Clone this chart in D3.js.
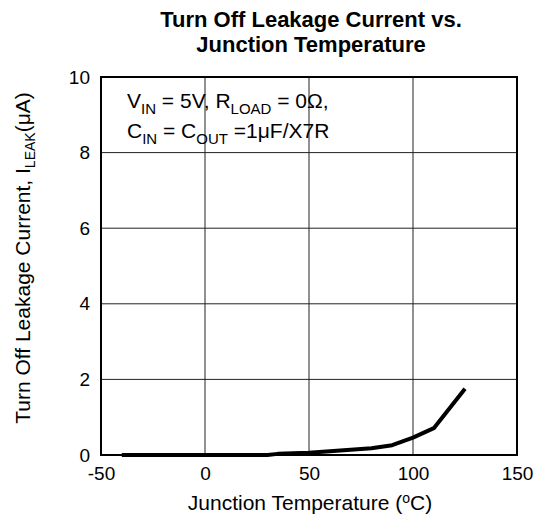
<!DOCTYPE html>
<html><head><meta charset="utf-8">
<script src="https://cdn.jsdelivr.net/npm/d3@7"></script>
<style>body{margin:0;background:#fff}svg{display:block}text{font-family:"Liberation Sans",Arial,sans-serif;fill:#000}</style>
</head><body><div id="c"></div>
<script>
const temps = [-40, -30, -20, -10, 0, 10, 20, 30, 35, 50, 60, 70, 80, 90, 100, 110, 125];
const leak  = [0, 0, 0, 0, 0, 0, 0, 0, 0.03, 0.06, 0.1, 0.14, 0.18, 0.26, 0.46, 0.71, 1.75];
const xTicks = [-50, 0, 50, 100, 150];
const yTicks = [0, 2, 4, 6, 8, 10];

const W = 536, H = 520;
const m = {l: 101, r: 19, t: 77, b: 65};
const FONT = "Liberation Sans, Arial, sans-serif";
const svg = d3.select("#c").append("svg").attr("width", W).attr("height", H);
const x = d3.scaleLinear().domain([-50, 150]).range([m.l, W - m.r]);
const y = d3.scaleLinear().domain([0, 10]).range([H - m.b, m.t]);

// grid
svg.append("g").selectAll("line").data(xTicks.slice(1, -1)).join("line")
  .attr("x1", d => x(d)).attr("x2", d => x(d)).attr("y1", y(0)).attr("y2", y(10))
  .attr("stroke", "#222").attr("stroke-width", 1);
svg.append("g").selectAll("line").data(yTicks.slice(1, -1)).join("line")
  .attr("y1", d => y(d)).attr("y2", d => y(d)).attr("x1", x(-50)).attr("x2", x(150))
  .attr("stroke", "#222").attr("stroke-width", 1);

// frame
svg.append("rect").attr("x", x(-50)).attr("y", y(10))
  .attr("width", x(150) - x(-50)).attr("height", y(0) - y(10))
  .attr("fill", "none").attr("stroke", "#000").attr("stroke-width", 2);

// tick labels via d3 axes
const xa = svg.append("g").attr("transform", `translate(0,${y(0)})`)
  .call(d3.axisBottom(x).tickValues(xTicks).tickFormat(d => String(d)).tickSize(0).tickPadding(12));
xa.select(".domain").remove();
xa.selectAll("text").attr("font-size", 19).attr("font-family", FONT).attr("fill", "#000");
const ya = svg.append("g").attr("transform", `translate(${x(-50)},0)`)
  .call(d3.axisLeft(y).tickValues(yTicks).tickFormat(d => String(d)).tickSize(0).tickPadding(11));
ya.select(".domain").remove();
ya.selectAll("text").attr("font-size", 19).attr("font-family", FONT).attr("fill", "#000");

// curve
const data = temps.map((t, i) => [t, leak[i]]);
svg.append("path").datum(data)
  .attr("d", d3.line().x(d => x(d[0])).y(d => y(d[1])))
  .attr("fill", "none").attr("stroke", "#000").attr("stroke-width", 4)
  .attr("stroke-linejoin", "round");

// title
const cx = (x(-50) + x(150)) / 2;
svg.append("text").attr("x", cx + 2).attr("y", 27).attr("text-anchor", "middle")
  .attr("font-size", 22).attr("font-weight", "bold").text("Turn Off Leakage Current vs.");
svg.append("text").attr("x", cx + 2).attr("y", 52).attr("text-anchor", "middle")
  .attr("font-size", 22).attr("font-weight", "bold").text("Junction Temperature");

// annotation
const a1 = svg.append("text").attr("x", 127).attr("y", 108).attr("font-size", 21);
a1.append("tspan").text("V");
a1.append("tspan").attr("font-size", 15).attr("dy", 6).text("IN");
a1.append("tspan").attr("dy", -6).text(" = 5V, R");
a1.append("tspan").attr("font-size", 15).attr("dy", 6).text("LOAD");
a1.append("tspan").attr("dy", -6).text(" = 0Ω,");
const a2 = svg.append("text").attr("x", 127).attr("y", 138).attr("font-size", 21);
a2.append("tspan").text("C");
a2.append("tspan").attr("font-size", 15).attr("dy", 6).text("IN");
a2.append("tspan").attr("dy", -6).text(" = C");
a2.append("tspan").attr("font-size", 15).attr("dy", 6).text("OUT");
a2.append("tspan").attr("dy", -6).text(" =1μF/X7R");

// x label
const xl = svg.append("text").attr("x", cx + 1).attr("y", 510).attr("text-anchor", "middle").attr("font-size", 21);
xl.append("tspan").text("Junction Temperature (");
xl.append("tspan").attr("font-size", 14).attr("dy", -7).text("o");
xl.append("tspan").attr("dy", 7).text("C)");

// y label
const yl = svg.append("text").attr("transform", `translate(30,${(y(0) + y(10)) / 2 - 8}) rotate(-90)`)
  .attr("text-anchor", "middle").attr("font-size", 21);
yl.append("tspan").text("Turn Off Leakage Current, I");
yl.append("tspan").attr("font-size", 14).attr("dy", 5).text("LEAK");
yl.append("tspan").attr("dy", -5).text("(μA)");
</script></body></html>
